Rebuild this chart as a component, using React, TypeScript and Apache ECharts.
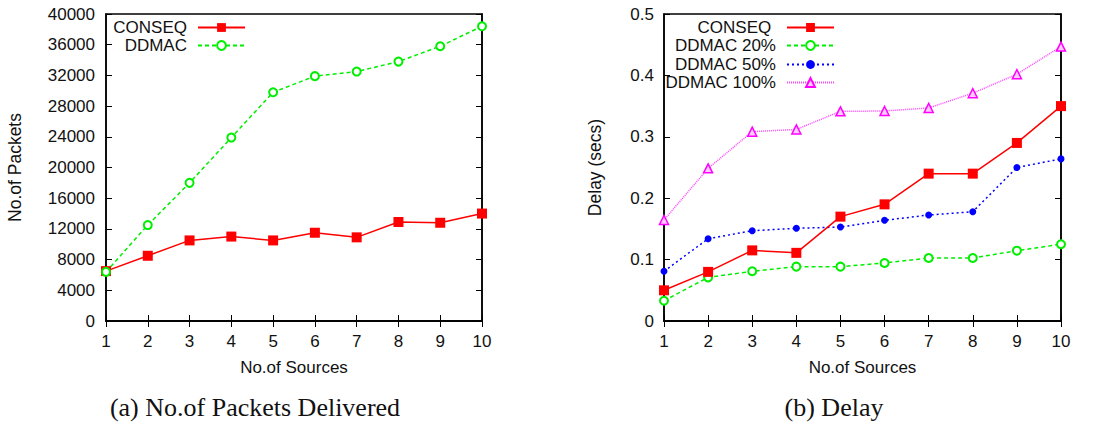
import React, { useEffect, useRef } from "react";
import * as echarts from "echarts";

const sources = [1, 2, 3, 4, 5, 6, 7, 8, 9, 10];
const packetsConseq = [6500, 8500, 10500, 11000, 10500, 11500, 10900, 12900, 12800, 14000];
const packetsDdmac = [6400, 12500, 18000, 23900, 29800, 31900, 32500, 33800, 35800, 38400];
const delayConseq = [0.05, 0.08, 0.115, 0.111, 0.17, 0.19, 0.24, 0.24, 0.29, 0.35];
const delayDdmac20 = [0.033, 0.071, 0.081, 0.0885, 0.0885, 0.0945, 0.1026, 0.1026, 0.1145, 0.125];
const delayDdmac50 = [0.081, 0.134, 0.147, 0.151, 0.153, 0.164, 0.1726, 0.178, 0.25, 0.264];
const delayDdmac100 = [0.1645, 0.2486, 0.3084, 0.312, 0.3415, 0.342, 0.347, 0.371, 0.402, 0.447];

const SANS = "Liberation Sans";
const SERIF = "Liberation Serif";
const pair = (ys: number[]) => sources.map((x, i) => [x, ys[i]]);

export default function App() {
  const ref = useRef<HTMLDivElement>(null);
  useEffect(() => {
    if (!ref.current) return;
    const chart = echarts.init(ref.current, null, { renderer: "svg" });
    const axisLine = { lineStyle: { color: "#000", width: 1.5 } };
    const tick = { inside: true, length: 6, lineStyle: { color: "#000", width: 1 } };
    const lbl = { color: "#111", fontFamily: SANS, fontSize: 17 };
    const xMain = (g: number) => ({
      type: "value", gridIndex: g, min: 1, max: 10, interval: 1, position: "bottom",
      axisLine, axisTick: tick, splitLine: { show: false },
      axisLabel: { ...lbl, margin: 12 },
      name: "No.of Sources", nameLocation: "middle", nameGap: 38,
      nameTextStyle: { color: "#111", fontFamily: SANS, fontSize: 17 },
    });
    const xTop = (g: number) => ({
      type: "value", gridIndex: g, min: 1, max: 10, interval: 1, position: "top",
      axisLine, axisTick: tick, splitLine: { show: false }, axisLabel: { show: false },
    });
    const yRight = (g: number, max: number, interval: number) => ({
      type: "value", gridIndex: g, min: 0, max, interval, position: "right",
      axisLine: { show: true, ...axisLine }, axisTick: { show: true, ...tick },
      splitLine: { show: false }, axisLabel: { show: false },
    });
    const legendItem = (name: string, right: number, top: number) => ({
      data: [name], right, top, align: "right", orient: "vertical", padding: 0,
      itemWidth: 47, itemHeight: 11,
      textStyle: { color: "#111", fontFamily: SANS, fontSize: 17, padding: [0, 6, 0, 0] },
    });
    const option: any = {
      animation: false,
      backgroundColor: "#fff",
      grid: [
        { left: 106, right: 632, top: 14, bottom: 103, show: true, borderColor: "#000", borderWidth: 1.5 },
        { left: 664, right: 53, top: 14, bottom: 103, show: true, borderColor: "#000", borderWidth: 1.5 },
      ],
      xAxis: [xMain(0), xTop(0), xMain(1), xTop(1)],
      yAxis: [
        {
          type: "value", gridIndex: 0, min: 0, max: 40000, interval: 4000,
          axisLine: { show: true, ...axisLine }, axisTick: { show: true, ...tick }, splitLine: { show: false },
          axisLabel: { ...lbl, margin: 11, formatter: (v: number) => String(v) },
          name: "No.of Packets", nameLocation: "middle", nameGap: 82,
          nameTextStyle: { color: "#111", fontFamily: SANS, fontSize: 17.5 },
        },
        yRight(0, 40000, 4000),
        {
          type: "value", gridIndex: 1, min: 0, max: 0.5, interval: 0.1,
          axisLine: { show: true, ...axisLine }, axisTick: { show: true, ...tick }, splitLine: { show: false },
          axisLabel: { ...lbl, margin: 10, formatter: (v: number) => String(Math.round(v * 10) / 10) },
          name: "Delay (secs)", nameLocation: "middle", nameGap: 60,
          nameTextStyle: { color: "#111", fontFamily: SANS, fontSize: 17.5 },
        },
        yRight(1, 0.5, 0.1),
      ],
      legend: [
        legendItem("CONSEQ", 868, 19),
        legendItem("DDMAC", 868, 37),
        legendItem("CONSEQ ", 279, 19),
        legendItem("DDMAC 20%", 279, 37),
        legendItem("DDMAC 50%", 279, 56),
        legendItem("DDMAC 100%", 279, 74),
      ],
      series: [
        {
          name: "CONSEQ", type: "line", xAxisIndex: 0, yAxisIndex: 0, data: pair(packetsConseq),
          symbol: "rect", symbolSize: 10, itemStyle: { color: "#ff0000" },
          lineStyle: { color: "#ff0000", width: 1.5 },
        },
        {
          name: "DDMAC", type: "line", xAxisIndex: 0, yAxisIndex: 0, data: pair(packetsDdmac),
          symbol: "emptyCircle", symbolSize: 8, itemStyle: { color: "#00ee00", borderWidth: 1.5 },
          lineStyle: { color: "#00ee00", width: 1.5, type: [4, 3] },
        },
        {
          name: "CONSEQ ", type: "line", xAxisIndex: 2, yAxisIndex: 2, data: pair(delayConseq),
          symbol: "rect", symbolSize: 10, itemStyle: { color: "#ff0000" },
          lineStyle: { color: "#ff0000", width: 1.5 }, z: 5,
        },
        {
          name: "DDMAC 20%", type: "line", xAxisIndex: 2, yAxisIndex: 2, data: pair(delayDdmac20),
          symbol: "emptyCircle", symbolSize: 8, itemStyle: { color: "#00ee00", borderWidth: 1.5 },
          lineStyle: { color: "#00ee00", width: 1.5, type: [4, 3] },
        },
        {
          name: "DDMAC 50%", type: "line", xAxisIndex: 2, yAxisIndex: 2, data: pair(delayDdmac50),
          symbol: "circle", symbolSize: 7, itemStyle: { color: "#0000ff" },
          lineStyle: { color: "#0000ff", width: 1.5, type: [2, 3] },
        },
        {
          name: "DDMAC 100%", type: "line", xAxisIndex: 2, yAxisIndex: 2, data: pair(delayDdmac100),
          symbol: "triangle", symbolSize: 9,
          itemStyle: { color: "#ffccff", borderColor: "#ff00ff", borderWidth: 1.5 },
          lineStyle: { color: "#ff44ff", width: 1.5, type: [1, 1] },
        },
      ],
      graphic: [
        {
          type: "text", x: 255, y: 407,
          style: { text: "(a) No.of Packets Delivered", fontFamily: SERIF, fontSize: 26, fill: "#111", align: "center", verticalAlign: "middle" },
        },
        {
          type: "text", x: 834, y: 407,
          style: { text: "(b) Delay", fontFamily: SERIF, fontSize: 26, fill: "#111", align: "center", verticalAlign: "middle" },
        },
      ],
    };
    chart.setOption(option);
    return () => chart.dispose();
  }, []);
  return <div ref={ref} style={{ position: "fixed", left: 0, top: 0, width: 1114, height: 424 }} />;
}
